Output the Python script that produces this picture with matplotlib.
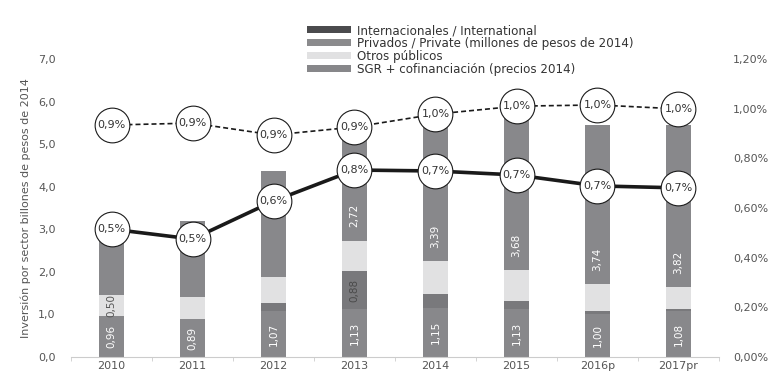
import matplotlib.pyplot as plt
from matplotlib.patches import Patch

plt.rcParams['font.family'] = 'DejaVu Sans'

years = ["2010", "2011", "2012", "2013", "2014", "2015", "2016p", "2017pr"]

# stacked bar segments, bottom to top (billones de pesos de 2014)
seg_base = [0.96, 0.89, 1.07, 1.13, 1.15, 1.13, 1.00, 1.08]
seg_sgr = [0.00, 0.00, 0.20, 0.88, 0.33, 0.18, 0.08, 0.04]
seg_otros = [0.50, 0.52, 0.61, 0.72, 0.77, 0.73, 0.63, 0.52]
seg_priv = [1.59, 1.78, 2.49, 2.72, 3.39, 3.68, 3.74, 3.82]

# percentage lines (right axis, % of GDP)
pct_dashed = [0.934, 0.942, 0.894, 0.926, 0.978, 1.010, 1.015, 0.999]
pct_solid = [0.515, 0.475, 0.628, 0.753, 0.749, 0.733, 0.689, 0.681]

legend_labels = ["Internacionales / International",
                 "Privados / Private (millones de pesos de 2014)",
                 "Otros públicos",
                 "SGR + cofinanciación (precios 2014)"]
legend_colors = ["#4b4b4d", "#8b8b8d", "#e1e1e2", "#87878a"]

c_base = "#88888b"
c_sgr = "#79797c"
c_otros = "#e1e1e2"
c_priv = "#88888b"
txt = "#555555"

def fmt(v):
    return f"{v:.2f}".replace(".", ",")

fig = plt.figure(figsize=(7.79, 3.74), dpi=100)
ax = fig.add_axes([71 / 779, 17 / 374, 648 / 779, 298 / 374])
x = list(range(len(years)))
w = 0.32

b1 = [a for a in seg_base]
b2 = [a + b for a, b in zip(b1, seg_sgr)]
b3 = [a + b for a, b in zip(b2, seg_otros)]
ax.bar(x, seg_base, w, color=c_base, edgecolor="none")
ax.bar(x, seg_sgr, w, bottom=b1, color=c_sgr, edgecolor="none")
ax.bar(x, seg_otros, w, bottom=b2, color=c_otros, edgecolor="none")
ax.bar(x, seg_priv, w, bottom=b3, color=c_priv, edgecolor="none")

for i in x:
    ax.text(i, seg_base[i] / 2, fmt(seg_base[i]), rotation=90, ha="center",
            va="center", color="white", fontsize=7.5)
    if i >= 3:
        ax.annotate(fmt(seg_priv[i]), (i, b3[i]), xytext=(0, 18),
                    textcoords="offset points", rotation=90, ha="center",
                    va="center", color="white", fontsize=7.5)
ax.text(0, b1[0] + seg_otros[0] / 2, fmt(seg_otros[0]), rotation=90,
        ha="center", va="center", color=txt, fontsize=7.5)
ax.text(3, b1[3] + seg_sgr[3] / 2, fmt(seg_sgr[3]), rotation=90,
        ha="center", va="center", color="#4a4a4a", fontsize=7.5)

ax.set_xlim(-0.5, len(years) - 0.5)
ax.set_ylim(0, 7)
ax.set_yticks(range(8))
ax.set_yticklabels([f"{v},0" for v in range(8)])
ax.set_xticks(x)
ax.set_xticklabels(years)
ax.set_xticks([i - 0.5 for i in range(len(years) + 1)], minor=True)
ax.tick_params(axis="x", which="major", length=0, pad=3, labelsize=8, colors=txt)
ax.tick_params(axis="x", which="minor", length=3, color="#cccccc")
ax.tick_params(axis="y", length=0, pad=11, labelsize=8, colors=txt)
for s in ["top", "left", "right"]:
    ax.spines[s].set_visible(False)
ax.spines["bottom"].set_color("#cccccc")
ax.set_ylabel("Inversión por sector billones de pesos de 2014", fontsize=8,
              color=txt, labelpad=5)

ax2 = ax.twinx()
ax2.set_ylim(0, 1.2)
ax2.set_yticks([0, 0.2, 0.4, 0.6, 0.8, 1.0, 1.2])
ax2.set_yticklabels(["0,00%", "0,20%", "0,40%", "0,60%", "0,80%", "1,00%", "1,20%"])
ax2.tick_params(axis="y", length=0, pad=10, labelsize=8, colors=txt)
for s in ["top", "left", "right", "bottom"]:
    ax2.spines[s].set_visible(False)

ax2.plot(x, pct_dashed, color="#1a1a1a", lw=1.2, dashes=(3.0, 1.8),
         marker="o", ms=25, mfc="white", mec="#1a1a1a", mew=0.8)
ax2.plot(x, pct_solid, color="#1a1a1a", lw=2.6, marker="o", ms=25,
         mfc="white", mec="#1a1a1a", mew=0.8)
for i in x:
    ax2.text(i, pct_dashed[i], f"{pct_dashed[i]:.1f}%".replace(".", ","),
             ha="center", va="center", fontsize=8, color="#333333")
    ax2.text(i, pct_solid[i], f"{pct_solid[i]:.1f}%".replace(".", ","),
             ha="center", va="center", fontsize=8, color="#333333")

handles = [Patch(facecolor=c, edgecolor="none") for c in legend_colors]
fig.legend(handles, legend_labels, loc="upper left",
           bbox_to_anchor=(307 / 779, 1 - 24 / 374), frameon=False,
           fontsize=8.6, handlelength=3.7, handleheight=0.55, labelspacing=0.0,
           handletextpad=0.45, borderpad=0, borderaxespad=0, labelcolor="#333333")

fig.savefig("out.png", dpi=100)
